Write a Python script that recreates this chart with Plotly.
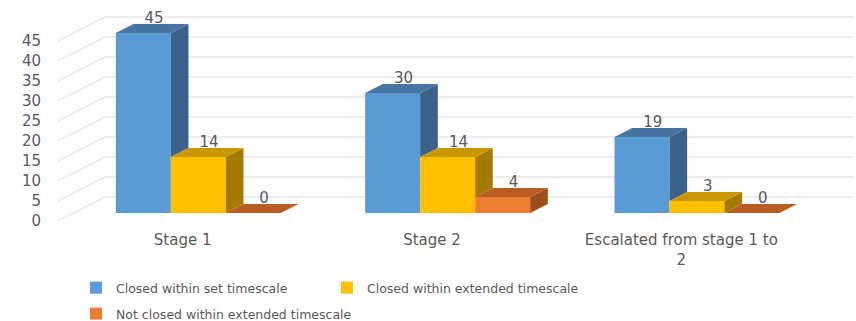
import plotly.graph_objects as go

# ---- data -------------------------------------------------------------
categories = ["Stage 1", "Stage 2", "Escalated from stage 1 to<br>2"]
series_names = [
    "Closed within set timescale",
    "Closed within extended timescale",
    "Not closed within extended timescale",
]
closed_set = [45, 30, 19]
closed_extended = [14, 14, 3]
not_closed = [0, 4, 0]
y_ticks = list(range(0, 50, 5))

series_values = [closed_set, closed_extended, not_closed]

# ---- styling ------------------------------------------------------------
front_colors = ["#5B9BD5", "#FFC000", "#ED7D31"]
top_colors = ["#4775A3", "#C99800", "#B95D22"]
side_colors = ["#3B6288", "#A47B00", "#9C4E1B"]
grid_color = "#D9D9D9"
text_color = "#595959"
FONT = "DejaVu Sans"

# ---- pseudo-3D projection -------------------------------------------------
X0, X1 = -0.5, 2.6885          # x range: front-left of floor to right end of back wall
Y0, Y1 = -1.5, 54.0            # y range in value units (front plane)
FLOOR_DEPTH = 6.0              # depth of the floor, in value units (vertical shift)
SHIFT_X = 0.1885 / FLOOR_DEPTH # horizontal shift per unit of depth
BAR_FRONT = 2.0                # depth of the bars' front face
BAR_DEPTH = 2.25               # thickness of the bars
SLOT = 0.2206                  # width of one bar


def proj(x, v, d):
    """Project a point (x, value, depth) onto the 2D axes."""
    return x + d * SHIFT_X, v + d


fig = go.Figure()

# back wall and left-side gridlines
shapes = []
for v in y_ticks:
    bx, by = proj(X0, v, FLOOR_DEPTH)
    shapes.append(dict(type="line", xref="x", yref="y", x0=X0, y0=v, x1=bx, y1=by,
                       line=dict(color=grid_color, width=1), layer="below"))
    shapes.append(dict(type="line", xref="x", yref="y", x0=bx, y0=by, x1=X1, y1=by,
                       line=dict(color=grid_color, width=1), layer="below"))

n_series = len(series_values)
legend_ids = ["legend", "legend", "legend2"]

# front faces
for s, vals in enumerate(series_values):
    fig.add_trace(go.Bar(
        x=list(range(len(categories))),
        y=vals,
        base=BAR_FRONT,
        width=SLOT,
        offset=(s - n_series / 2) * SLOT + BAR_FRONT * SHIFT_X,
        name=series_names[s],
        legend=legend_ids[s],
        marker=dict(color=front_colors[s], line=dict(width=0)),
        hoverinfo="skip",
    ))

# side and top faces
for s, vals in enumerate(series_values):
    side_x, side_y, top_x, top_y = [], [], [], []
    for i, v in enumerate(vals):
        xl = i + (s - n_series / 2) * SLOT
        xr = xl + SLOT
        d0, d1 = BAR_FRONT, BAR_FRONT + BAR_DEPTH
        # part of the side face not hidden by the next bar
        lower = min(v, series_values[s + 1][i]) if s + 1 < n_series else 0
        if lower < v:
            pts = [proj(xr, lower, d0), proj(xr, v, d0), proj(xr, v, d1), proj(xr, lower, d1)]
            side_x += [p[0] for p in pts] + [None]
            side_y += [p[1] for p in pts] + [None]
        pts = [proj(xl, v, d0), proj(xr, v, d0), proj(xr, v, d1), proj(xl, v, d1)]
        top_x += [p[0] for p in pts] + [None]
        top_y += [p[1] for p in pts] + [None]
    if side_x:
        fig.add_trace(go.Scatter(x=side_x, y=side_y, mode="lines", fill="toself",
                                 fillcolor=side_colors[s], line=dict(width=0),
                                 showlegend=False, hoverinfo="skip"))
    fig.add_trace(go.Scatter(x=top_x, y=top_y, mode="lines", fill="toself",
                             fillcolor=top_colors[s], line=dict(width=0),
                             showlegend=False, hoverinfo="skip"))

# value labels above each bar: centred over the top face, just behind its back edge
for s, vals in enumerate(series_values):
    lx, ly = [], []
    for i, v in enumerate(vals):
        xc = i + (s - n_series / 2 + 0.5) * SLOT + 0.008
        lx.append(proj(xc, v, BAR_FRONT + BAR_DEPTH / 2)[0])
        ly.append(proj(xc, v, BAR_FRONT + BAR_DEPTH)[1] - 0.8)
    fig.add_trace(go.Scatter(x=lx, y=ly, mode="text", text=[str(v) for v in vals],
                             textposition="top center",
                             textfont=dict(family=FONT, size=15, color=text_color),
                             showlegend=False, hoverinfo="skip"))

legend_common = dict(orientation="h", xanchor="left", yanchor="middle",
                     xref="container", yref="container",
                     font=dict(family=FONT, size=12.5, color=text_color),
                     traceorder="normal", bgcolor="rgba(0,0,0,0)")

fig.update_layout(
    width=856, height=321,
    margin=dict(l=58, r=3, t=5, b=94, autoexpand=False),
    paper_bgcolor="white", plot_bgcolor="white",
    barmode="overlay",
    shapes=shapes,
    font=dict(family=FONT, color=text_color),
    xaxis=dict(range=[X0, X1], tickmode="array", tickvals=list(range(len(categories))),
               ticktext=categories, showgrid=False, zeroline=False, showline=False,
               ticks="", ticklabelstandoff=2,
               tickfont=dict(family=FONT, size=15, color=text_color),
               fixedrange=True, automargin=False),
    yaxis=dict(range=[Y0, Y1], tickmode="array", tickvals=y_ticks,
               showgrid=False, zeroline=False, showline=False, ticks="",
               ticklabelstandoff=16,
               tickfont=dict(family=FONT, size=15, color=text_color),
               fixedrange=True, automargin=False),
    legend=dict(legend_common, x=76 / 856, y=1 - 288 / 321,
                entrywidth=206, entrywidthmode="pixels"),
    legend2=dict(legend_common, x=76 / 856, y=1 - 314 / 321),
)

fig.write_html("out.html")
